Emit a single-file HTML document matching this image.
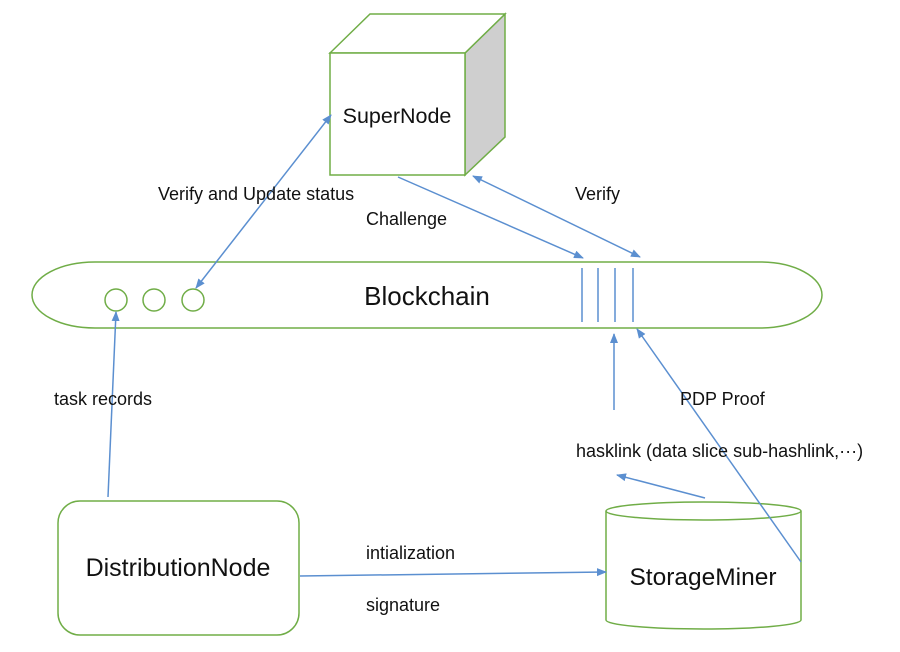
<!DOCTYPE html>
<html><head><meta charset="utf-8"><style>
html,body{margin:0;padding:0;background:#fff;}
svg{display:block;}
text{font-family:"Liberation Sans",sans-serif;fill:#111;}
</style></head><body>
<svg width="900" height="652" viewBox="0 0 900 652" xmlns="http://www.w3.org/2000/svg">
<defs>
<marker id="a" markerWidth="10" markerHeight="10" refX="9" refY="5" orient="auto" markerUnits="userSpaceOnUse"><path d="M0,1 L10,5 L0,9 Z" fill="#5b8fd0"/></marker>
<marker id="b" markerWidth="10" markerHeight="10" refX="1" refY="5" orient="auto" markerUnits="userSpaceOnUse"><path d="M10,1 L0,5 L10,9 Z" fill="#5b8fd0"/></marker>
</defs>
<!-- cube -->
<polygon points="465,53 505,14 505,137 465,175" fill="#cfcfcf" stroke="#70ad47" stroke-width="1.5"/>
<polygon points="330,53 370,14 505,14 465,53" fill="#fff" stroke="#70ad47" stroke-width="1.5"/>
<rect x="330" y="53" width="135" height="122" fill="#fff" stroke="#70ad47" stroke-width="1.5"/>
<text x="397" y="123" font-size="21.5" text-anchor="middle">SuperNode</text>
<!-- blockchain -->
<path d="M95 262 L760 262 A62 33 0 0 1 760 328 L95 328 A63 33 0 0 1 95 262 Z" fill="#fff" stroke="#70ad47" stroke-width="1.5"/>
<text x="427" y="305" font-size="26" text-anchor="middle">Blockchain</text>
<circle cx="116" cy="300" r="11" fill="none" stroke="#70ad47" stroke-width="1.5"/>
<circle cx="154" cy="300" r="11" fill="none" stroke="#70ad47" stroke-width="1.5"/>
<circle cx="193" cy="300" r="11" fill="none" stroke="#70ad47" stroke-width="1.5"/>
<g stroke="#5b8fd0" stroke-width="1.5">
<line x1="582" y1="268" x2="582" y2="322"/><line x1="598" y1="268" x2="598" y2="322"/>
<line x1="615" y1="268" x2="615" y2="322"/><line x1="633" y1="268" x2="633" y2="322"/>
</g>
<!-- distribution node -->
<rect x="58" y="501" width="241" height="134" rx="22" fill="#fff" stroke="#70ad47" stroke-width="1.5"/>
<text x="178" y="576" font-size="25" text-anchor="middle">DistributionNode</text>
<!-- cylinder -->
<path d="M606 511 L606 620 A97.5 9 0 0 0 801 620 L801 511" fill="#fff" stroke="#70ad47" stroke-width="1.5"/>
<ellipse cx="703.5" cy="511" rx="97.5" ry="9" fill="#fff" stroke="#70ad47" stroke-width="1.5"/>
<text x="703" y="585" font-size="24.5" text-anchor="middle">StorageMiner</text>
<!-- arrows -->
<g stroke="#5b8fd0" stroke-width="1.5" fill="none">
<line x1="196" y1="288" x2="331" y2="115" marker-start="url(#b)" marker-end="url(#a)"/>
<line x1="398" y1="177" x2="583" y2="258" marker-end="url(#a)"/>
<line x1="473" y1="176" x2="640" y2="257" marker-start="url(#b)" marker-end="url(#a)"/>
<line x1="108" y1="497" x2="116" y2="312" marker-end="url(#a)"/>
<line x1="614" y1="410" x2="614" y2="334" marker-end="url(#a)"/>
<line x1="705" y1="498" x2="617" y2="475" marker-end="url(#a)"/>
<line x1="801" y1="562" x2="637" y2="329" marker-end="url(#a)"/>
<line x1="300" y1="576" x2="606" y2="572" marker-end="url(#a)"/>
</g>
<!-- labels -->
<g font-size="18">
<text x="158" y="200">Verify and Update status</text>
<text x="366" y="225">Challenge</text>
<text x="575" y="200">Verify</text>
<text x="54" y="405">task records</text>
<text x="680" y="405">PDP Proof</text>
<text x="576" y="457">hasklink  (data slice sub-hashlink,···)</text>
<text x="366" y="559">intialization</text>
<text x="366" y="611">signature</text>
</g>
</svg>
</body></html>
